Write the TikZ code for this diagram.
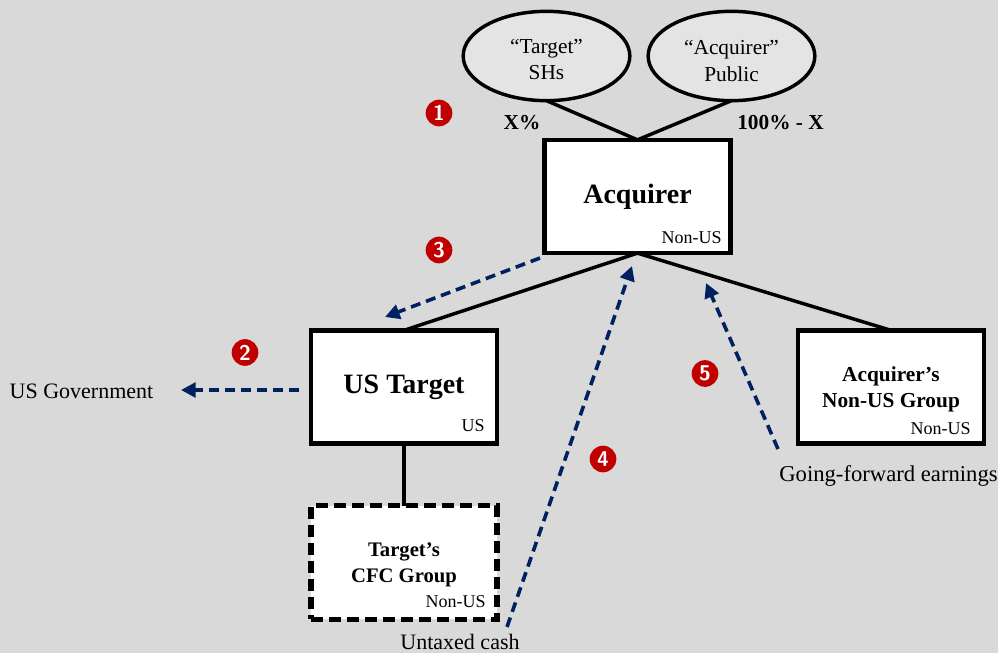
\documentclass[tikz,border=0pt]{standalone}
\usepackage{fontspec}
\setmainfont{Liberation Serif}
\usetikzlibrary{arrows.meta,shapes.geometric}
\definecolor{bgGray}{HTML}{D9D9D9}
\definecolor{holderGray}{HTML}{E4E4E4}
\definecolor{flowBlue}{HTML}{002060}
\definecolor{markRed}{HTML}{C00000}
\tikzset{
  entity/.style={draw=black, fill=white, line width=3.4pt, minimum width=139.5pt, minimum height=85pt, align=center, inner sep=0pt, outer sep=0pt},
  holder/.style={ellipse, draw=black, fill=holderGray, line width=2.6pt, minimum width=125pt, minimum height=67pt, align=center, inner sep=0pt, outer sep=0pt, font=\fontsize{16}{20}\selectfont},
  link/.style={draw=black, line width=2.6pt},
  flow/.style={draw=flowBlue, line width=2.7pt, dash pattern=on 7.5pt off 4.5pt, -{Triangle[length=11pt,width=11pt]}},
  marker/.style={circle, fill=markRed, text=white, inner sep=0pt, minimum size=20pt, font=\sffamily\bfseries\fontsize{16}{16}\selectfont},
  juris/.style={inner sep=0pt, anchor=base east, font=\fontsize{13.5}{13.5}\selectfont},
  caption/.style={inner sep=0pt, font=\fontsize{16.5}{16.5}\selectfont},
  share/.style={inner sep=0pt, font=\bfseries\fontsize{16}{16}\selectfont},
}
\begin{document}
\begin{tikzpicture}[x=0.75pt,y=-0.75pt]
  \fill[bgGray] (0,0) rectangle (998,653);
  \useasboundingbox (0,0) rectangle (998,653);
  % entities
  \node[entity, font=\bfseries\fontsize{21}{24}\selectfont] (acquirer) at (637.5,196.5) {\raisebox{1.5pt}{Acquirer}};
  \node[entity, font=\bfseries\fontsize{21}{24}\selectfont] (ustarget) at (404,387) {\raisebox{-1.5pt}{US Target}};
  \node[entity, line width=3.8pt, dash pattern=on 9pt off 4.5pt, font=\bfseries\fontsize{15.5}{20}\selectfont] (cfcgroup) at (404,562.5) {\rule{0pt}{14pt}Target’s\\CFC Group};
  \node[entity, font=\bfseries\fontsize{16}{19.5}\selectfont] (nonusgroup) at (891,387) {\rule{0pt}{14pt}Acquirer’s\\Non-US Group};
  \node[holder] (targetshs) at (546.5,56) {\rule{0pt}{16pt}“Target”\\SHs};
  \node[holder] (publicshs) at (731.5,56) {\rule{0pt}{18pt}“Acquirer”\\Public};
  % jurisdiction tags
  \node[juris] (acquirertag) at (722,243) {Non-US};
  \node[juris] (ustargettag) at (485,431) {US};
  \node[juris] (cfctag) at (486,607) {Non-US};
  \node[juris] (grouptag) at (971,434) {Non-US};
  % ownership lines
  \draw[link] (targetshs.south) -- (acquirer.north);
  \draw[link] (publicshs.south) -- (acquirer.north);
  \draw[link] (acquirer.south) -- (ustarget.north);
  \draw[link] (acquirer.south) -- (nonusgroup.north);
  \draw[link] (ustarget.south) -- (cfcgroup.north);
  \node[share] (xshare) at (522,123) {X\%};
  \node[share] (restshare) at (780.5,123) {100\% - X};
  % captions
  \node[caption] (usgov) at (81.5,391) {US Government};
  \node[caption] (cash) at (460,642) {Untaxed cash};
  \node[caption, font=\fontsize{17}{17}\selectfont] (earnings) at (888.5,476) {Going-forward earnings};
  % flows
  \coordinate (f3a) at (540,258);
  \coordinate (f3b) at (385,317);
  \coordinate (f2a) at (299,390);
  \coordinate (f2b) at (181,390);
  \coordinate (f4a) at (507,627);
  \coordinate (f4b) at (632,266);
  \coordinate (f5a) at (778,449);
  \coordinate (f5b) at (706,283);
  \draw[flow] (f3a) -- (f3b);
  \draw[flow] (f2a) -- (f2b);
  \draw[flow] (f4a) -- (f4b);
  \draw[flow] (f5a) -- (f5b);
  % step markers
  \node[marker] (m1) at (439,113) {1};
  \node[marker] (m2) at (245,352.5) {2};
  \node[marker] (m3) at (439,250) {3};
  \node[marker] (m4) at (603,459) {4};
  \node[marker] (m5) at (705,373.5) {5};
\end{tikzpicture}
\end{document}
